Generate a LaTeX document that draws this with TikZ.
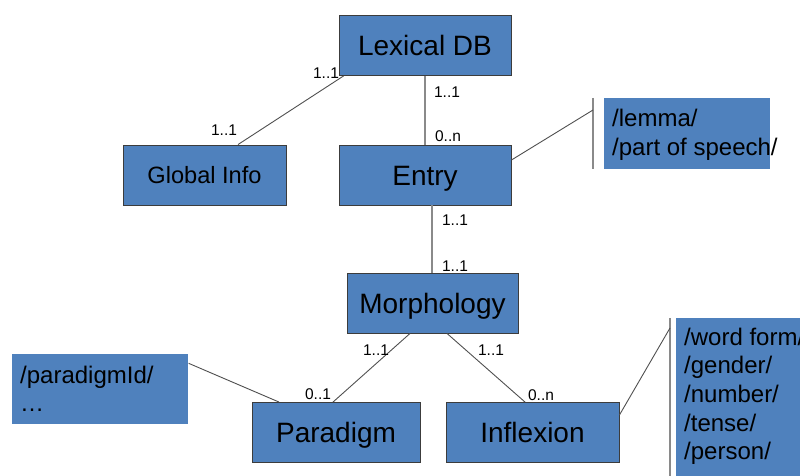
\documentclass[tikz,border=0pt]{standalone}
\usepackage{fontspec}
\setmainfont{Liberation Sans}
\definecolor{boxblue}{HTML}{4F81BD}
\definecolor{boxline}{HTML}{3C3C3C}
\definecolor{conn}{HTML}{505050}
\definecolor{vconn}{HTML}{8A8A8A}
\tikzset{
  entity/.style={draw=boxline, line width=0.9pt, fill=boxblue, inner sep=0pt,
    minimum width=172pt, minimum height=60pt, font=\fontsize{28}{30}\selectfont,
    text height=20pt, text depth=0pt},
  smallentity/.style={entity, minimum width=163pt, font=\fontsize{23.6}{26}\selectfont,
    text height=17pt},
  attrbox/.style={fill=boxblue, draw=none, inner sep=0pt, anchor=north west},
  attrline/.style={anchor=base west, inner sep=0pt, font=\fontsize{24}{28}\selectfont},
  card/.style={inner sep=0pt, font=\fontsize{15.5}{17}\selectfont},
  diag/.style={draw=conn, line width=0.9pt},
  vert/.style={draw=vconn, line width=1.8pt},
}
\begin{document}
\begin{tikzpicture}[x=1pt,y=-1pt]
\useasboundingbox (0,0) rectangle (800,476);
\clip (0,0) rectangle (800,476);

% entities
\node[entity] (lexdb) at (425,45.5) {Lexical DB};
\node[entity] (entry) at (425,175) {Entry};
\node[smallentity] (glob) at (204.5,175) {Global Info};
\node[entity, minimum width=171pt] (morph) at (432.5,303) {Morphology};
\node[entity, minimum width=168pt] (parad) at (336,432.5) {Paradigm};
\node[entity, minimum width=173pt] (infl) at (532.5,432.5) {Inflexion};

% attribute boxes
\node[attrbox, minimum width=166pt, minimum height=71pt] (lemmabox) at (604,98) {};
\node[attrline] (lemma1) at (612,127) {/lemma/};
\node[attrline] (lemma2) at (612,155) {/part of speech/};

\node[draw=boxline!60, line width=0.6pt, attrbox, minimum width=176pt, minimum height=70pt] (parbox) at (12,354) {};
\node[attrline] (par1) at (20,383) {/paradigmId/};
\node[attrline] (par2) at (20,411) {\dots};

\node[attrbox, minimum width=140pt, minimum height=170pt] (inflbox) at (676,318) {};
\node[attrline] (inf1) at (684,345) {/word form/};
\node[attrline] (inf2) at (684,373.7) {/gender/};
\node[attrline] (inf3) at (684,402.4) {/number/};
\node[attrline] (inf4) at (684,431.1) {/tense/};
\node[attrline] (inf5) at (684,459.8) {/person/};

% bracket lines
\coordinate (lbT) at (593,98);
\coordinate (lbB) at (593,169);
\coordinate (lbM) at (593,110);
\coordinate (ibT) at (670,318);
\coordinate (ibB) at (670,480);
\coordinate (ibM) at (670,328);
\draw[vert] (lbT) -- (lbB);
\draw[vert] (ibT) -- (ibB);

% connectors
\draw[vert] (lexdb.south) -- (entry.north);
\draw[diag] ([xshift=5pt]lexdb.south west) -- ([xshift=33.5pt]glob.north);
\draw[diag] ([yshift=15pt]entry.east) -- (lbM);
\draw[vert] ([xshift=7pt]entry.south) -- ([xshift=-0.5pt]morph.north);
\draw[diag] ([xshift=-22.5pt]morph.south) -- ([xshift=-3pt]parad.north);
\draw[diag] ([xshift=14.5pt]morph.south) -- ([xshift=-7.5pt]infl.north);
\draw[diag] ([yshift=26pt]parbox.east) -- ([xshift=-57pt]parad.north);
\draw[diag] ([yshift=17.5pt]infl.east) -- (ibM);

% cardinalities
\node[card] (c1) at (326,73) {1..1};
\node[card] (c2) at (224,130) {1..1};
\node[card] (c3) at (447,92) {1..1};
\node[card] (c4) at (448,136) {0..n};
\node[card] (c5) at (455,220) {1..1};
\node[card] (c6) at (455,266) {1..1};
\node[card] (c7) at (376,350) {1..1};
\node[card] (c8) at (318,394) {0..1};
\node[card] (c9) at (491,350) {1..1};
\node[card] (c10) at (541,395) {0..n};
\end{tikzpicture}
\end{document}
